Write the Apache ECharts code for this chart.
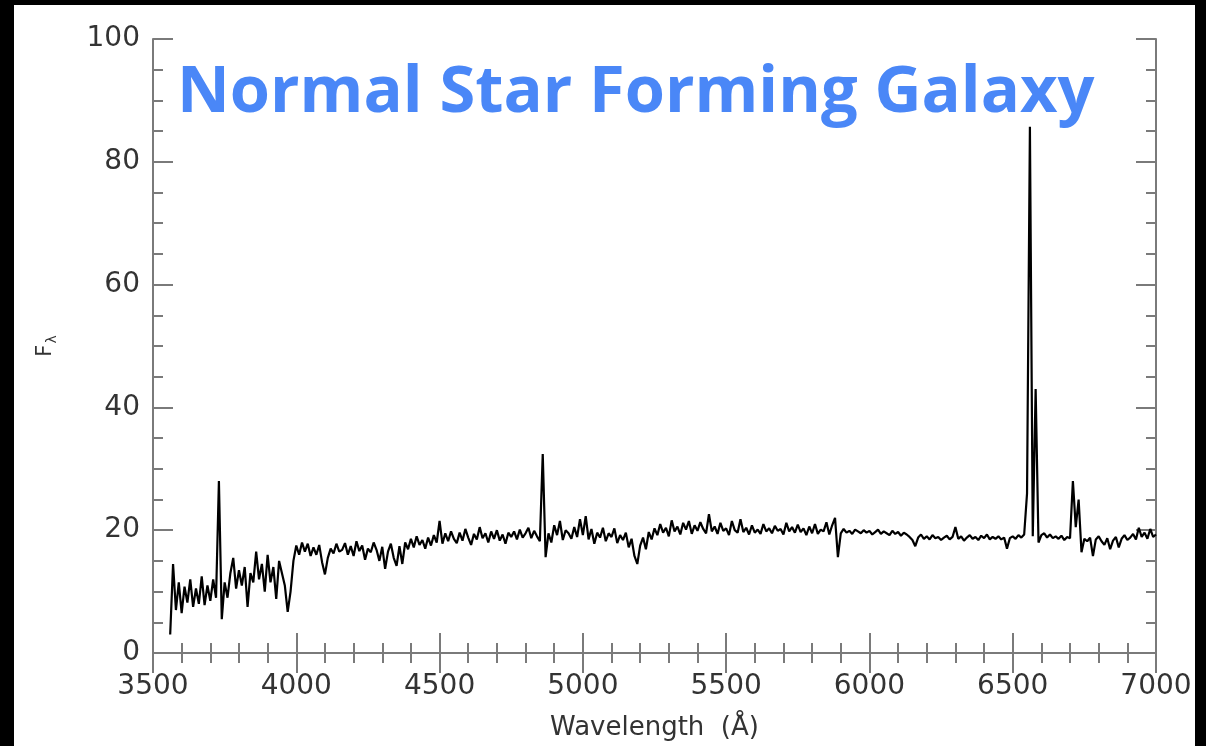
<!DOCTYPE html>
<html>
<head>
<meta charset="utf-8">
<script src="https://cdn.jsdelivr.net/npm/echarts@6/dist/echarts.min.js"></script>
<style>
html,body{margin:0;padding:0;background:#000;width:1206px;height:746px;overflow:hidden;}
#panel{position:absolute;left:14px;top:5px;width:1181px;height:741px;background:#fff;}
#chart{position:absolute;left:0;top:0;width:1206px;height:746px;}
</style>
</head>
<body>
<div id="panel"></div>
<div id="chart"></div>
<script>
// Spectrum sampling: wavelength grid start and step (Angstrom)
const lambdaStart = 3560;
const lambdaStep = 10;
// Flux values, one per 10 Å from 3560 to 7000
const flux3560 = [3, 14.5, 7, 11.5, 6.5, 10.8, 8.2, 12, 7.5, 10.5];
const flux3660 = [8, 12.5, 7.8, 11, 8.5, 12, 9, 28, 5.5, 11.5];
const flux3760 = [9, 13, 15.5, 10.5, 13.5, 11, 14, 7.5, 13, 11.5];
const flux3860 = [16.5, 12, 14.5, 10, 16, 11.5, 14, 8.8, 15, 13];
const flux3960 = [11, 6.7, 10, 15, 17.5, 16, 18, 16.5, 17.8, 15.8];
const flux4060 = [17.2, 16, 17.6, 14.8, 12.8, 15.5, 17, 16.2, 17.8, 16.5];
const flux4160 = [16.8, 17.9, 16, 17.4, 15.8, 18.2, 16.6, 17.5, 15.2, 17];
const flux4260 = [16.4, 18, 16.8, 15, 17.3, 13.7, 16.5, 17.8, 15.5, 14.2];
const flux4360 = [17.4, 14.5, 18, 16.9, 18.6, 17.2, 19, 17.6, 18.4, 17];
const flux4460 = [18.8, 17.5, 19.2, 18, 21.5, 17.8, 19.5, 18.2, 19.8, 18.6];
const flux4560 = [17.9, 19.6, 18.3, 20.2, 18.8, 17.6, 19.4, 18.5, 20.5, 18.7];
const flux4660 = [19.5, 18, 19.8, 18.6, 20, 18.3, 19.3, 17.8, 19.6, 18.9];
const flux4760 = [19.8, 18.5, 20.1, 18.8, 19.5, 20.4, 18.7, 19.9, 19, 18.2];
const flux4860 = [32.4, 15.6, 19.5, 18, 20.8, 19.2, 21.5, 18.4, 20, 19.5];
const flux4960 = [18.6, 20.5, 18.9, 21.8, 19.2, 22.3, 18.5, 20.2, 17.8, 19.6];
const flux5060 = [18.8, 20.4, 18.2, 19.5, 18.9, 20.3, 17.9, 19.2, 18.4, 19.6];
const flux5160 = [17.2, 18.6, 15.8, 14.5, 17.5, 18.8, 16.9, 19.7, 18.5, 20.3];
const flux5260 = [19.2, 21, 19.6, 20.4, 19, 21.6, 19.8, 20.6, 19.3, 21.2];
const flux5360 = [20.1, 21.5, 19.4, 20.8, 19.9, 21.3, 20.2, 19.5, 22.6, 19.8];
const flux5460 = [20.6, 19.4, 21.2, 19.9, 20.3, 19.2, 21.5, 20, 19.6, 21.8];
const flux5560 = [19.7, 20.4, 19.3, 20.8, 19.6, 20.1, 19.4, 21, 19.8, 20.3];
const flux5660 = [19.5, 20.7, 19.9, 20.2, 19.3, 21.2, 19.8, 20.5, 19.6, 20.9];
const flux5760 = [19.7, 20.3, 19.2, 20.6, 19.5, 21, 19.4, 20.1, 19.8, 21.3];
const flux5860 = [19.3, 20.8, 22, 15.6, 19.5, 20.2, 19.6, 19.9, 19.4, 20.1];
const flux5960 = [19.8, 19.5, 20, 19.6, 19.9, 19.3, 19.7, 20.1, 19.4, 19.8];
const flux6060 = [19.5, 19.2, 19.9, 19.4, 19.7, 19.1, 19.6, 19.3, 18.9, 18.4];
const flux6160 = [17.4, 18.8, 19.3, 18.6, 19, 18.5, 19.2, 18.7, 18.9, 18.4];
const flux6260 = [18.8, 19.1, 18.5, 18.9, 20.5, 18.6, 19, 18.3, 18.8, 19.2];
const flux6360 = [18.6, 18.9, 18.4, 19.1, 18.7, 19.3, 18.5, 18.9, 18.6, 19];
const flux6460 = [18.5, 18.8, 17, 18.7, 19, 18.6, 19.2, 18.8, 19.3, 26];
const flux6560 = [85.7, 19, 43, 18, 19.2, 19.5, 18.8, 19.3, 18.7, 19];
const flux6660 = [18.6, 19.1, 18.4, 18.9, 18.7, 28, 20.5, 25, 16.4, 18.6];
const flux6760 = [18.2, 18.8, 15.8, 18.5, 19, 18.2, 17.6, 18.7, 16.9, 18.3];
const flux6860 = [18.9, 17.2, 18.6, 19.2, 18.4, 18.8, 19.4, 18.5, 20.4, 18.9];
const flux6960 = [19.6, 18.6, 20.2, 18.9, 19.3];

const fluxValues = [].concat(flux3560, flux3660, flux3760, flux3860, flux3960,
  flux4060, flux4160, flux4260, flux4360, flux4460, flux4560, flux4660, flux4760,
  flux4860, flux4960, flux5060, flux5160, flux5260, flux5360, flux5460, flux5560,
  flux5660, flux5760, flux5860, flux5960, flux6060, flux6160, flux6260, flux6360,
  flux6460, flux6560, flux6660, flux6760, flux6860, flux6960);

const xTicks = [3500, 4000, 4500, 5000, 5500, 6000, 6500, 7000];
const yTicks = [0, 20, 40, 60, 80, 100];
const titleText = 'Normal Star Forming Galaxy';
const xName = 'Wavelength  (Å)';

const seriesData = fluxValues.map((f, i) => [lambdaStart + i * lambdaStep, f]);

const axisGray = '#7a7a7a';
const tickFont = {color: '#333', fontSize: 28, fontFamily: 'DejaVu Sans'};

function xAx(pos, labels) {
  return {
    type: 'value', position: pos, min: xTicks[0], max: xTicks[xTicks.length - 1], interval: 500,
    axisLine: {show: true, lineStyle: {color: axisGray, width: 2}},
    axisTick: {show: true, inside: true, length: 20, lineStyle: {color: axisGray, width: 2}},
    minorTick: {show: true, splitNumber: 5, length: 10, lineStyle: {color: axisGray, width: 2}},
    splitLine: {show: false},
    axisLabel: Object.assign({show: labels, margin: 20, showMinLabel: true, showMaxLabel: true,
      formatter: v => String(v)}, tickFont),
    name: labels ? xName : '',
    nameLocation: 'middle', nameGap: 62,
    nameTextStyle: {color: '#333', fontSize: 26, fontFamily: 'DejaVu Sans'}
  };
}
function yAx(pos, labels) {
  return {
    type: 'value', position: pos, min: yTicks[0], max: yTicks[yTicks.length - 1], interval: 20,
    axisLine: {show: true, lineStyle: {color: axisGray, width: 2}},
    axisTick: {show: true, inside: true, length: 20, lineStyle: {color: axisGray, width: 2}},
    minorTick: {show: true, splitNumber: 4, length: 10, lineStyle: {color: axisGray, width: 2}},
    splitLine: {show: false},
    axisLabel: Object.assign({show: labels, margin: 13, showMinLabel: true, showMaxLabel: true,
      formatter: v => String(v)}, tickFont),
    name: labels ? '{a|F}{b|λ}' : '',
    nameLocation: 'middle', nameGap: 94, nameRotate: 90,
    nameTextStyle: {
      rich: {
        a: {fontSize: 21, color: '#333', fontFamily: 'DejaVu Sans'},
        b: {fontSize: 14, color: '#333', fontFamily: 'DejaVu Sans', padding: [12, 0, 0, 1]}
      }
    }
  };
}

const chart = echarts.init(document.getElementById('chart'), null, {renderer: 'canvas'});
chart.setOption({
  animation: false,
  backgroundColor: 'transparent',
  title: {
    text: titleText, left: 172, top: 56,
    textStyle: {color: '#4a87f7', fontSize: 65, fontWeight: 'bold', fontFamily: 'Open Sans'}
  },
  grid: {left: 153, top: 39, right: 50, bottom: 92, containLabel: false},
  xAxis: [xAx('bottom', true), xAx('top', false)],
  yAxis: [yAx('left', true), yAx('right', false)],
  series: [{
    type: 'line', xAxisIndex: 0, yAxisIndex: 0, data: seriesData,
    showSymbol: false, symbol: 'none',
    lineStyle: {color: '#000', width: 2.2}, z: 3
  }]
});
</script>
</body>
</html>
